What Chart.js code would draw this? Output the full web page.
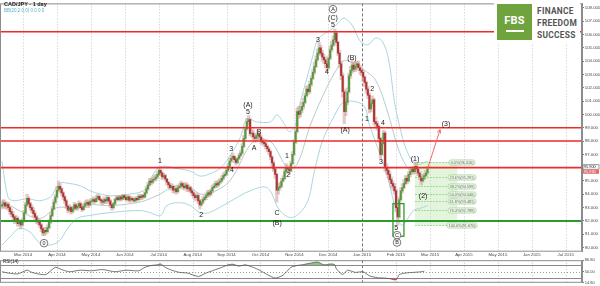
<!DOCTYPE html>
<html><head><meta charset="utf-8">
<script src="https://cdn.jsdelivr.net/npm/chart.js@4.4.1/dist/chart.umd.min.js"></script>
<style>
html,body{margin:0;padding:0;background:#fff;width:600px;height:286px;overflow:hidden;font-family:"Liberation Sans",Arial,sans-serif}
#wrap{position:relative;width:600px;height:286px}
canvas{position:absolute;left:0}
#main{top:0}
#rsi{top:257px}
.t1{position:absolute;left:4px;top:1px;font-size:5.5px;font-weight:bold;color:#222;white-space:nowrap}
.t2{position:absolute;left:4px;top:8px;font-size:4.5px;color:#58b4c4;white-space:nowrap}
.t3{position:absolute;left:3px;top:259px;font-size:4.5px;color:#222;white-space:nowrap}
.brandbg{position:absolute;left:494px;top:2px;width:86px;height:41px;background:#fff}
.logo{position:absolute;left:497px;top:4px;width:35px;height:36px;background:#6fa33e}
.fbs{position:absolute;left:0;top:11px;width:35px;text-align:center;color:#fff;font:bold 11px Roboto,"Liberation Sans",sans-serif;letter-spacing:0.2px;line-height:11px}
.ul{position:absolute;left:9px;top:26px;width:18px;height:1.5px;background:#fff}
.brand{position:absolute;left:537px;font:bold 8.4px Roboto,"Liberation Sans",sans-serif;color:#555;letter-spacing:0.3px;line-height:9px;white-space:nowrap}
</style></head>
<body><div id="wrap">
<canvas id="main" width="600" height="257"></canvas>
<canvas id="rsi" width="600" height="29"></canvas>
<div class="t1">CAD/JPY - 1 day</div>
<div class="t2">BB(20,2.0,0) 0.0 0.0</div>
<div class="t3">RSI(14)</div>
<div class="brandbg"></div>
<div class="logo"><div class="fbs">FBS</div><div class="ul"></div></div>
<div class="brand" style="top:7px">FINANCE</div>
<div class="brand" style="top:19px">FREEDOM</div>
<div class="brand" style="top:31px">SUCCESS</div>
</div>
<script>
// ---- daily candles (bar index 0 = mid Feb 2014) ----
const opens = [
93.1,93.2,93.35,93.1,93.25,93.0,92.7,92.5,92.3,92.0,
92.2,91.8,91.9,91.7,92.0,92.6,93.2,93.7,93.3,93.0,
92.8,92.55,92.3,92.0,91.9,91.7,91.4,91.1,91.3,91.2,
91.5,91.9,92.4,92.9,93.4,93.8,94.3,94.6,94.4,94.1,
93.8,93.5,93.1,92.8,93.0,92.7,92.9,93.2,92.95,93.1,
93.3,93.0,92.85,93.1,93.3,93.4,93.2,93.45,93.5,93.6,
93.45,93.7,93.85,93.6,93.5,93.4,93.6,93.5,93.75,93.5,
93.2,93.0,93.3,93.6,93.75,93.6,93.8,93.65,93.9,93.75,
93.6,93.8,93.55,93.7,93.6,93.5,93.7,93.6,93.85,93.75,
93.9,93.8,94.1,94.4,94.7,95.0,94.9,95.1,95.15,95.3,
95.5,95.8,95.6,95.3,95.4,95.15,94.9,94.7,94.5,94.6,
94.3,94.4,94.2,94.5,94.6,94.8,94.6,94.5,94.7,94.4,
94.5,94.25,94.1,93.9,93.75,93.9,93.5,93.2,93.4,93.6,
93.75,93.9,94.1,94.0,94.25,94.5,94.6,94.8,94.7,94.9,
95.0,95.2,95.4,95.5,95.8,96.1,96.5,96.7,96.85,96.6,
96.4,96.7,96.9,97.1,97.6,98.2,98.9,99.45,99.6,98.55,
98.6,98.3,98.2,98.4,98.5,98.3,98.0,97.9,97.8,97.6,
97.4,97.2,96.8,96.35,95.9,95.5,94.3,94.5,94.6,95.0,
95.2,95.7,96.0,95.9,95.75,96.3,97.0,97.9,98.7,100.2,
100.0,100.3,100.6,100.9,101.4,101.9,101.7,102.25,102.7,103.15,
103.6,104.1,104.6,105.0,104.6,104.3,104.1,103.8,103.5,104.2,
104.85,105.2,105.6,106.1,105.4,104.6,103.8,102.9,101.7,100.2,
100.9,101.7,102.9,103.3,103.7,103.4,103.6,103.8,103.5,103.3,
103.15,102.8,102.4,101.9,101.45,100.4,100.8,101.1,99.45,99.3,
99.1,98.2,97.0,97.8,98.6,96.0,95.8,95.5,95.1,94.8,
94.6,94.25,93.0,92.3,93.6,94.25,94.5,94.8,95.2,95.0,
95.5,95.7,95.9,95.7,96.1,95.9,95.6,95.3,95.0,95.2,
95.4,95.6];
const closes = [
93.2,93.35,93.1,93.25,93.0,92.7,92.5,92.3,92.0,92.2,
91.8,91.9,91.7,92.0,92.6,93.2,93.7,93.3,93.0,92.8,
92.55,92.3,92.0,91.9,91.7,91.4,91.1,91.3,91.2,91.5,
91.9,92.4,92.9,93.4,93.8,94.3,94.6,94.4,94.1,93.8,
93.5,93.1,92.8,93.0,92.7,92.9,93.2,92.95,93.1,93.3,
93.0,92.85,93.1,93.3,93.4,93.2,93.45,93.5,93.6,93.45,
93.7,93.85,93.6,93.5,93.4,93.6,93.5,93.75,93.5,93.2,
93.0,93.3,93.6,93.75,93.6,93.8,93.65,93.9,93.75,93.6,
93.8,93.55,93.7,93.6,93.5,93.7,93.6,93.85,93.75,93.9,
93.8,94.1,94.4,94.7,95.0,94.9,95.1,95.15,95.3,95.5,
95.8,95.6,95.3,95.4,95.15,94.9,94.7,94.5,94.6,94.3,
94.4,94.2,94.5,94.6,94.8,94.6,94.5,94.7,94.4,94.5,
94.25,94.1,93.9,93.75,93.9,93.5,93.2,93.4,93.6,93.75,
93.9,94.1,94.0,94.25,94.5,94.6,94.8,94.7,94.9,95.0,
95.2,95.4,95.5,95.8,96.1,96.5,96.7,96.85,96.6,96.4,
96.7,96.9,97.1,97.6,98.2,98.9,99.45,99.6,98.55,98.6,
98.3,98.2,98.4,98.5,98.3,98.0,97.9,97.8,97.6,97.4,
97.2,96.8,96.35,95.9,95.5,94.3,94.5,94.6,95.0,95.2,
95.7,96.0,95.9,95.75,96.3,97.0,97.9,98.7,100.2,100.0,
100.3,100.6,100.9,101.4,101.9,101.7,102.25,102.7,103.15,103.6,
104.1,104.6,105.0,104.6,104.3,104.1,103.8,103.5,104.2,104.85,
105.2,105.6,106.1,105.4,104.6,103.8,102.9,101.7,100.2,100.9,
101.7,102.9,103.3,103.7,103.4,103.6,103.8,103.5,103.3,103.15,
102.8,102.4,101.9,101.45,100.4,100.8,101.1,99.45,99.3,99.1,
98.2,97.0,97.8,98.6,96.0,95.8,95.5,95.1,94.8,94.6,
94.25,93.0,92.3,93.6,94.25,94.5,94.8,95.2,95.0,95.5,
95.7,95.9,95.7,96.1,95.9,95.6,95.3,95.0,95.2,95.4,
95.6,95.9];
const highs = [
93.5,93.6,93.5,93.4,93.4,93.1,92.9,92.7,92.4,92.4,
92.3,92.1,92.0,92.2,92.8,93.4,94.0,93.8,93.4,93.2,
93.0,92.7,92.4,92.2,92.1,91.8,91.5,91.5,91.5,91.7,
92.1,92.6,93.1,93.6,94.0,94.6,95.0,94.8,94.5,94.2,
93.9,93.6,93.2,93.2,93.1,93.1,93.4,93.3,93.3,93.5,
93.4,93.1,93.3,93.5,93.6,93.5,93.6,93.7,93.8,93.7,
93.9,94.0,93.9,93.7,93.6,93.8,93.7,93.9,93.8,93.6,
93.3,93.4,93.7,93.9,93.9,93.9,93.9,94.0,94.0,93.9,
93.9,93.9,93.8,93.8,93.7,93.8,93.8,94.0,94.0,94.0,
94.0,94.2,94.6,94.9,95.2,95.2,95.3,95.4,95.5,95.7,
96.0,95.9,95.7,95.6,95.5,95.2,95.0,94.8,94.8,94.7,
94.6,94.5,94.7,94.8,95.0,94.9,94.8,94.9,94.8,94.7,
94.6,94.4,94.2,94.0,94.1,94.0,93.6,93.6,93.8,93.9,
94.1,94.3,94.3,94.4,94.7,94.8,95.0,95.0,95.1,95.2,
95.4,95.6,95.7,96.0,96.3,96.7,96.9,97.1,96.9,96.7,
96.8,97.1,97.3,97.8,98.4,99.1,99.7,99.9,99.7,98.9,
98.8,98.5,98.6,98.8,98.6,98.4,98.2,98.1,97.9,97.7,
97.5,97.3,96.9,96.5,96.0,95.6,94.8,94.9,95.2,95.4,
95.9,96.3,96.2,96.0,96.5,97.2,98.1,98.9,100.5,100.6,
100.6,100.9,101.2,101.6,102.1,102.2,102.5,102.9,103.4,103.9,
104.4,104.9,105.4,105.2,104.8,104.5,104.3,104.0,104.4,105.1,
105.5,105.9,106.4,106.2,105.5,104.8,104.0,103.1,101.9,101.2,
102.0,103.1,103.6,104.1,103.9,103.9,104.0,104.0,103.7,103.5,
103.3,102.9,102.5,102.1,101.6,101.0,101.4,101.2,99.8,99.5,
99.2,98.3,98.0,98.8,98.7,96.3,96.0,95.7,95.3,95.0,
94.8,94.4,93.2,93.8,94.5,94.8,95.1,95.4,95.4,95.7,
95.9,96.1,96.0,96.41,96.3,96.0,95.7,95.4,95.4,95.6,
95.8,96.1];
const lows = [
92.9,93.0,92.9,92.9,92.8,92.5,92.3,92.1,91.8,91.9,
91.6,91.6,91.4,91.6,91.9,92.5,93.1,93.1,92.8,92.6,
92.3,92.1,91.8,91.7,91.5,91.2,90.9,90.9,91.0,91.1,
91.4,91.8,92.3,92.8,93.3,93.7,94.2,94.1,93.9,93.6,
93.3,92.9,92.6,92.7,92.5,92.6,92.8,92.8,92.8,93.0,
92.9,92.7,92.8,93.0,93.2,93.0,93.1,93.3,93.4,93.3,
93.4,93.6,93.5,93.3,93.2,93.3,93.3,93.4,93.3,93.0,
92.8,92.9,93.2,93.5,93.5,93.5,93.5,93.6,93.6,93.5,
93.5,93.4,93.4,93.5,93.4,93.4,93.5,93.5,93.6,93.6,
93.7,93.7,94.0,94.3,94.6,94.7,94.8,95.0,95.0,95.2,
95.4,95.4,95.1,95.2,95.0,94.7,94.5,94.3,94.4,94.1,
94.1,94.0,94.1,94.4,94.5,94.4,94.3,94.4,94.2,94.2,
94.1,93.9,93.7,93.5,93.6,93.3,92.9,93.1,93.3,93.5,
93.6,93.8,93.8,93.9,94.1,94.4,94.5,94.5,94.6,94.8,
94.9,95.1,95.3,95.4,95.7,96.0,96.4,96.6,96.4,96.2,
96.3,96.6,96.8,97.0,97.5,98.1,98.8,99.2,98.4,98.3,
98.1,97.9,98.0,98.2,98.1,97.8,97.7,97.6,97.4,97.2,
97.0,96.6,96.1,95.7,95.2,93.4,94.0,94.3,94.5,94.9,
95.1,95.6,95.7,95.5,95.7,96.2,96.9,97.8,98.6,99.7,
99.8,100.1,100.4,100.8,101.3,101.5,101.6,102.1,102.6,103.0,
103.5,104.0,104.5,104.4,104.0,103.8,103.5,103.2,103.4,104.1,
104.7,105.1,105.5,105.2,104.4,103.5,102.6,101.3,99.3,99.9,
100.7,101.6,102.7,103.1,103.2,103.2,103.4,103.3,103.0,102.9,
102.5,102.1,101.6,101.2,100.1,100.2,100.6,99.2,99.0,98.8,
97.9,96.7,96.9,97.7,95.7,95.5,95.2,94.9,94.5,94.3,
94.0,92.7,91.67,92.2,93.5,94.1,94.4,94.7,94.8,94.9,
95.3,95.6,95.5,95.6,95.7,95.4,95.1,94.7,94.9,95.1,
95.3,95.5];

// ---- Bollinger bands, read at sparse bars: [bar, price] ----
const bbUpper = [[0,96.48],[4,93.74],[8,93.52],[16,93.67],[24,93.52],[31,93.81],[34,94.41],[37,94.85],[41,94.85],[50,94.63],[56,94.26],[62,94.04],[69,93.89],[78,93.96],[90,94.26],[94,95.0],[99,95.96],[104,96.11],[110,95.96],[120,95.74],[126,95.37],[132,95.52],[139,95.96],[145,96.85],[152,98.33],[156,99.67],[162,99.44],[171,99.44],[175,99.96],[179,99.44],[183,98.7],[187,99.22],[190,100.93],[194,102.63],[198,104.41],[201,105.59],[206,106.11],[211,106.48],[215,107.0],[218,107.22],[223,106.7],[228,105.52],[233,105.22],[238,105.74],[242,105.52],[246,104.26],[250,100.93],[253,99.22],[258,97.22],[264,96.26],[271,96.48]];
const bbMiddle = [[0,93.52],[11,92.78],[24,92.19],[35,93.0],[43,93.0],[56,93.22],[69,93.15],[82,93.3],[91,93.52],[101,94.04],[110,94.63],[120,94.48],[126,94.04],[132,94.04],[145,95.0],[160,97.96],[171,97.96],[182,95.96],[188,96.26],[196,99.07],[204,101.3],[212,103.15],[218,104.04],[225,103.74],[231,103.3],[238,102.56],[245,100.41],[253,97.22],[260,95.74],[266,95.52],[271,95.37]];
const bbLower = [[0,90.19],[5,90.78],[11,91.44],[18,91.15],[24,90.33],[31,90.19],[37,90.56],[41,91.3],[48,92.19],[56,92.41],[69,92.63],[88,92.78],[94,92.63],[101,92.41],[105,93.15],[113,93.37],[120,93.15],[126,92.63],[132,92.63],[144,93.37],[158,94.26],[169,94.48],[177,92.78],[185,92.26],[194,93.3],[199,95.74],[204,97.96],[212,99.96],[218,100.93],[230,100.7],[234,99.22],[245,95.52],[252,92.26],[255,91.67],[262,92.78],[266,92.93],[271,93.15]];

// ---- RSI(14), read at sparse bars ----
const rsiPts = [[0,50],[4,46],[10,43],[16,55],[19,48],[23,43],[28,41],[34,64],[39,55],[43,50],[50,55],[57,53],[64,57],[72,50],[79,55],[87,53],[91,64],[95,70],[99,72],[101,75],[104,64],[108,55],[113,48],[118,46],[125,35],[130,46],[135,55],[140,64],[144,72],[147,74],[151,68],[155,72],[160,64],[164,55],[169,41],[174,30],[179,39],[184,64],[188,70],[191,72],[196,77],[201,81],[205,72],[210,75],[212,72],[213,59],[217,41],[220,55],[225,48],[230,50],[234,37],[239,31],[243,30],[247,28],[251,24],[253,41],[257,46],[262,48],[267,50],[269,52]];
const rsiLevels = [70, 50, 30];
const rsiTicks = [86.8, 70, 50, 30, 14.8];

// ---- axes ----
const monthLabels = ['Mar 2014','Apr 2014','May 2014','Jun 2014','Jul 2014','Aug 2014','Sep 2014','Oct 2014','Nov 2014','Dec 2014','Jan 2015','Feb 2015','Mar 2015','Apr 2015','May 2015','Jun 2015','Jul 2015'];
const monthBars = [13.4,35.0,56.6,78.2,99.8,121.4,143.0,164.6,186.2,207.8,229.4,251.0,272.6,294.2,315.8,337.4,359.0];
const separatorIndex = 10;
const priceTicks = [90,91,92,93,94,95,96,97,98,99,100,101,102,103,104,105,106,107,108];
const xMin = -1.27, xMax = 369.4, yMin = 89.689, yMax = 108.333;

// ---- analysis objects ----
const redLevels = [106.2, 99.0, 98.0, 96.0];
const greenLevels = [92.0];
const fibLevels = [0, 23.6, 38.2, 50.0, 61.8, 76.4, 100.0];
const fibHigh = 96.41, fibLow = 91.67;
const fibStartBar = 263, fibEndBar = 290, fibLabelBar = 293;
const projection = [[271, 95.9], [279, 98.85]];
const lowBox = [[249, 93.3], [256, 90.85]];
const waveLabels = [
 ['0',26.8,90.33,true],['1',100.6,96.48],['2',126.8,92.41],['3',145.9,97.37],['4',146.5,95.81],
 ['(A)',156.7,100.7],['5',156.7,100.15],['A',160.5,97.44],['B',163.7,98.7],['C',175.2,92.56],['(B)',175.2,91.81],
 ['1',181.5,96.85],['2',182.2,95.44],['3',201.3,105.59],['4',207,103.15],
 ['A',210.8,107.9,true],['(C)',210.8,107.22],['5',210.8,106.7],
 ['(A)',218.5,98.85],['(B)',222.9,104.26],['1',232.5,99.67],['2',235.7,101.89],['3',241.4,96.41],['4',242.7,99.37],
 ['5',251,91.44],['C',251.6,90.93,true],['B',251.6,90.38,true],
 ['(1)',263,96.63],['(2)',268.2,93.89],['(3)',282.8,99.3]
];

const FONT = '"Liberation Sans", Arial, sans-serif';
const bullColor = '#4f9d3f', bearColor = '#ad3535';

function drawVGrid(chart){
  const {ctx, chartArea:a, scales:{x}} = chart;
  ctx.save(); ctx.lineWidth = 1;
  monthBars.forEach((v,k)=>{
    const px = Math.round(x.getPixelForValue(v)) + 0.5;
    ctx.strokeStyle = k === separatorIndex ? '#7a7a7a' : '#c6c6c6';
    ctx.setLineDash(k === separatorIndex ? [3,2] : [1,2]);
    ctx.beginPath(); ctx.moveTo(px, a.top); ctx.lineTo(px, a.bottom); ctx.stroke();
  });
  ctx.restore();
}
function frame(chart){
  const {ctx, chartArea:a} = chart;
  ctx.save(); ctx.strokeStyle = '#8c8c8c'; ctx.lineWidth = 1; ctx.setLineDash([]);
  ctx.strokeRect(a.left + 0.5, a.top + 0.5, a.right - a.left - 1, a.bottom - a.top - 1);
  ctx.restore();
}

const mainOverlay = {
  id: 'mainOverlay',
  beforeDatasetsDraw(chart){
    drawVGrid(chart);
    const {ctx, scales:{x,y}} = chart;
    const fx0 = x.getPixelForValue(fibStartBar), fx1 = x.getPixelForValue(fibEndBar);
    const fy0 = y.getPixelForValue(fibHigh), fy1 = y.getPixelForValue(fibLow);
    ctx.save();
    ctx.fillStyle = 'rgba(182,228,164,0.38)';
    ctx.fillRect(fx0, fy0, fx1 - fx0, fy1 - fy0);
    ctx.restore();
  },
  afterDatasetsDraw(chart){
    const {ctx, chartArea:a, scales:{x,y}} = chart;
    ctx.save();
    // fibonacci levels
    const fx0 = x.getPixelForValue(fibStartBar), fxl = x.getPixelForValue(fibLabelBar);
    fibLevels.forEach(l=>{
      const price = fibHigh - (fibHigh - fibLow) * l / 100;
      const py = Math.round(y.getPixelForValue(price)) + 0.5;
      ctx.strokeStyle = '#92d287'; ctx.lineWidth = 0.8; ctx.setLineDash([2,1]);
      ctx.beginPath(); ctx.moveTo(fx0, py); ctx.lineTo(fxl - 13, py); ctx.stroke();
      ctx.setLineDash([]);
      const txt = l.toFixed(1) + '%(' + price.toFixed(3) + ')';
      ctx.font = '3.8px ' + FONT;
      const w = ctx.measureText(txt).width + 3;
      ctx.fillStyle = '#eef8e9'; ctx.strokeStyle = '#9fd394'; ctx.lineWidth = 0.7;
      ctx.beginPath(); ctx.roundRect(fxl - w/2, py - 2.6, w, 5.2, 2); ctx.fill(); ctx.stroke();
      ctx.fillStyle = '#666'; ctx.textAlign = 'center'; ctx.textBaseline = 'middle';
      ctx.fillText(txt, fxl, py + 0.2);
    });
    // horizontal levels
    ctx.lineWidth = 1.6;
    redLevels.forEach(p=>{
      const py = y.getPixelForValue(p);
      ctx.strokeStyle = '#ee2a2a';
      ctx.beginPath(); ctx.moveTo(a.left, py); ctx.lineTo(a.right, py); ctx.stroke();
    });
    ctx.lineWidth = 2;
    greenLevels.forEach(p=>{
      const py = y.getPixelForValue(p);
      ctx.strokeStyle = '#2c9a2c';
      ctx.beginPath(); ctx.moveTo(a.left, py); ctx.lineTo(a.right, py); ctx.stroke();
    });
    // green box at the low
    const bx0 = x.getPixelForValue(lowBox[0][0]), by0 = y.getPixelForValue(lowBox[0][1]);
    const bx1 = x.getPixelForValue(lowBox[1][0]), by1 = y.getPixelForValue(lowBox[1][1]);
    ctx.strokeStyle = '#2c9a2c'; ctx.lineWidth = 1.3;
    ctx.strokeRect(bx0, by0, bx1 - bx0, by1 - by0);
    // projection arrow
    const ax0 = x.getPixelForValue(projection[0][0]), ay0 = y.getPixelForValue(projection[0][1]);
    const ax1 = x.getPixelForValue(projection[1][0]), ay1 = y.getPixelForValue(projection[1][1]);
    ctx.strokeStyle = '#f05a5a'; ctx.lineWidth = 0.9;
    ctx.beginPath(); ctx.moveTo(ax0, ay0); ctx.lineTo(ax1, ay1); ctx.stroke();
    const ang = Math.atan2(ay1 - ay0, ax1 - ax0);
    ctx.beginPath();
    ctx.moveTo(ax1 - 4*Math.cos(ang - 0.5), ay1 - 4*Math.sin(ang - 0.5));
    ctx.lineTo(ax1, ay1);
    ctx.lineTo(ax1 - 4*Math.cos(ang + 0.5), ay1 - 4*Math.sin(ang + 0.5));
    ctx.stroke();
    // wave labels
    ctx.textAlign = 'center'; ctx.textBaseline = 'middle';
    waveLabels.forEach(([t, b, p, circ])=>{
      const px = x.getPixelForValue(b), py = y.getPixelForValue(p);
      if (circ) {
        ctx.fillStyle = '#fff'; ctx.strokeStyle = '#555'; ctx.lineWidth = 0.8;
        ctx.beginPath(); ctx.arc(px, py, 3.8, 0, Math.PI*2); ctx.fill(); ctx.stroke();
        ctx.font = '5.5px ' + FONT; ctx.fillStyle = '#222';
        ctx.fillText(t, px, py + 0.3);
      } else {
        ctx.font = '7px ' + FONT; ctx.fillStyle = '#1a1a1a';
        ctx.fillText(t, px, py);
      }
    });
    ctx.restore();
    frame(chart);
  },
  afterDraw(chart){
    const {ctx, chartArea:a, scales:{y}} = chart;
    const last = closes[closes.length - 1];
    const py = y.getPixelForValue(last);
    ctx.save();
    ctx.font = '3.8px ' + FONT; ctx.textAlign = 'left'; ctx.textBaseline = 'middle';
    ctx.fillStyle = '#fff'; ctx.strokeStyle = '#555'; ctx.lineWidth = 0.6;
    ctx.fillRect(a.right + 1, py - 4.2, 16, 4.4); ctx.strokeRect(a.right + 1, py - 4.2, 16, 4.4);
    ctx.fillStyle = '#222'; ctx.fillText(last.toFixed(3), a.right + 2, py - 2);
    ctx.fillStyle = '#e46a6a'; ctx.fillRect(a.right + 1, py + 0.6, 16, 4.2);
    ctx.fillStyle = '#fff'; ctx.fillText((last + 0.03).toFixed(3), a.right + 2, py + 2.7);
    ctx.restore();
  }
};

const pts = arr => arr.map(([b, v]) => ({x: b, y: v}));
const bandLine = (data, color) => ({type:'line', data: pts(data), borderColor: color, borderWidth: 0.9, pointRadius: 0, tension: 0.35, fill: false, order: 5});

new Chart(document.getElementById('main'), {
  type: 'bar',
  data: { datasets: [
    { type:'bar', label:'body', order: 1, grouped: false, barThickness: 1.4,
      data: closes.map((c,i)=>({x: i, y: [opens[i], c]})),
      backgroundColor: ctx => { const d = ctx.raw; return d && d.y[1] >= d.y[0] ? bullColor : bearColor; } },
    { type:'bar', label:'range', order: 2, grouped: false, barThickness: 2.6,
      data: highs.map((h,i)=>({x: i, y: [lows[i], h]})),
      backgroundColor: 'rgba(206,160,160,0.55)' },
    bandLine(bbUpper, '#9fd2da'),
    bandLine(bbMiddle, '#adc6c6'),
    bandLine(bbLower, '#9fd2da')
  ]},
  options: {
    responsive: false, devicePixelRatio: 1, animation: false,
    layout: { padding: 0 },
    plugins: { legend: {display:false}, tooltip: {enabled:false} },
    scales: {
      x: { type:'linear', min: xMin, max: xMax, position:'bottom', offset: false,
           afterBuildTicks: s => { s.ticks = monthBars.map(v => ({value: v})); },
           afterFit: s => { s.height = 5.3; },
           ticks: { autoSkip:false, maxRotation:0, padding: 0.5, color:'#444', font:{family: FONT, size: 4.3},
                    callback: (v, i) => monthLabels[i] },
           grid: { display:false, drawTicks:false }, border: { display:false } },
      y: { type:'linear', position:'right', min: yMin, max: yMax,
           afterBuildTicks: s => { s.ticks = priceTicks.map(v => ({value: v})); },
           afterFit: s => { s.width = 18; },
           ticks: { padding: 0.8, color:'#444', font:{family: FONT, size: 4.3}, callback: v => v.toFixed(3) },
           grid: { display:true, drawOnChartArea:false, drawTicks:true, tickLength: 2, tickColor:'#777', color:'#777' },
           border: { display:true, color:'#8c8c8c' } }
    }
  },
  plugins: [mainOverlay]
});

const rsiOverlay = {
  id: 'rsiOverlay',
  beforeDatasetsDraw(chart){
    drawVGrid(chart);
    const {ctx, chartArea:a, scales:{y}} = chart;
    ctx.save(); ctx.lineWidth = 1;
    rsiLevels.forEach(l=>{
      const py = Math.round(y.getPixelForValue(l)) + 0.5;
      ctx.strokeStyle = l === 50 ? '#9a9a9a' : '#8a8a8a';
      ctx.setLineDash(l === 50 ? [1,2] : []);
      ctx.beginPath(); ctx.moveTo(a.left, py); ctx.lineTo(a.right, py); ctx.stroke();
    });
    ctx.restore();
  },
  afterDatasetsDraw(chart){ frame(chart); }
};

new Chart(document.getElementById('rsi'), {
  type: 'line',
  data: { datasets: [
    { data: pts(rsiPts), borderColor:'#555', borderWidth: 0.8, pointRadius: 0, tension: 0.2,
      fill: { target: {value: 70}, above: 'rgba(110,170,90,0.75)', below: 'rgba(0,0,0,0)' } },
    { data: pts(rsiPts), borderColor:'rgba(0,0,0,0)', borderWidth: 0, pointRadius: 0, tension: 0.2,
      fill: { target: {value: 30}, above: 'rgba(0,0,0,0)', below: 'rgba(220,80,80,0.8)' } }
  ]},
  options: {
    responsive: false, devicePixelRatio: 1, animation: false,
    layout: { padding: {top: 1, bottom: 1, left: 0, right: 0} },
    plugins: { legend: {display:false}, tooltip: {enabled:false} },
    scales: {
      x: { type:'linear', min: xMin, max: xMax, display: false },
      y: { type:'linear', position:'right', min: 14.8, max: 86.8,
           afterBuildTicks: s => { s.ticks = rsiTicks.map(v => ({value: v})); },
           afterFit: s => { s.width = 18; },
           ticks: { padding: 0.8, color:'#444', font:{family: FONT, size: 4}, callback: v => v.toFixed(2) },
           grid: { display:true, drawOnChartArea:false, drawTicks:true, tickLength: 2, tickColor:'#777', color:'#777' },
           border: { display:true, color:'#8c8c8c' } }
    }
  },
  plugins: [rsiOverlay]
});
</script>
</body></html>
